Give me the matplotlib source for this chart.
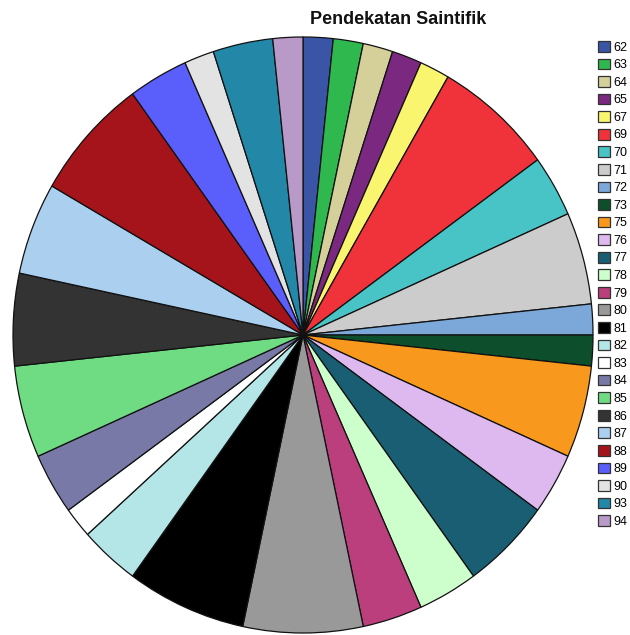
import matplotlib
matplotlib.use('Agg')
import matplotlib.pyplot as plt
from matplotlib.patches import Patch

plt.rc('font', family=['Liberation Sans', 'DejaVu Sans'])

# categories (scores) and their counts (60 in total)
labels = ['62', '63', '64', '65', '67', '69', '70', '71', '72', '73', '75', '76', '77', '78',
          '79', '80', '81', '82', '83', '84', '85', '86', '87', '88', '89', '90', '93', '94']
counts = [1, 1, 1, 1, 1, 4, 2, 3, 1, 1, 3, 2, 3, 2,
          2, 4, 4, 2, 1, 2, 3, 3, 3, 4, 2, 1, 2, 1]
colors = ['#3b55a6', '#2fb84d', '#d5cf9a', '#7b2880', '#faf56e', '#f0323b', '#48c3c6',
          '#cccccc', '#7ba8d8', '#0d4f2c', '#f8981d', '#ddb9ef', '#1a5e73', '#ccffcc',
          '#ba3f7c', '#999999', '#000000', '#b4e6e7', '#ffffff', '#7879a6', '#6fdc83',
          '#333333', '#abcfef', '#a5141a', '#5a5efb', '#e3e3e3', '#2387a8', '#b999c8']

fig = plt.figure(figsize=(6.3, 6.35), dpi=100)
# pie is slightly taller than wide in the original
ax = fig.add_axes([13/630, 2/635, 580/630, 596/635])

ax.pie(counts, colors=colors, startangle=90, counterclock=False,
       wedgeprops=dict(edgecolor='#111111', linewidth=0.9))
ax.set_aspect('auto')
ax.set_xlim(-1, 1)
ax.set_ylim(-1, 1)

fig.text(398/630, 1 - 20/635, 'Pendekatan Saintifik', ha='center', va='center',
         fontsize=13, fontweight='bold', color='#111111')

handles = [Patch(facecolor=c, edgecolor='#333333', linewidth=0.9) for c in colors]
fig.legend(handles, labels, loc='upper left', bbox_to_anchor=(598/630, 1 - 41/635),
           frameon=False, fontsize=9, handlelength=0.95, handleheight=0.95,
           handletextpad=0.3, labelspacing=0.39, borderpad=0, borderaxespad=0)

fig.savefig('out.png', dpi=100)
